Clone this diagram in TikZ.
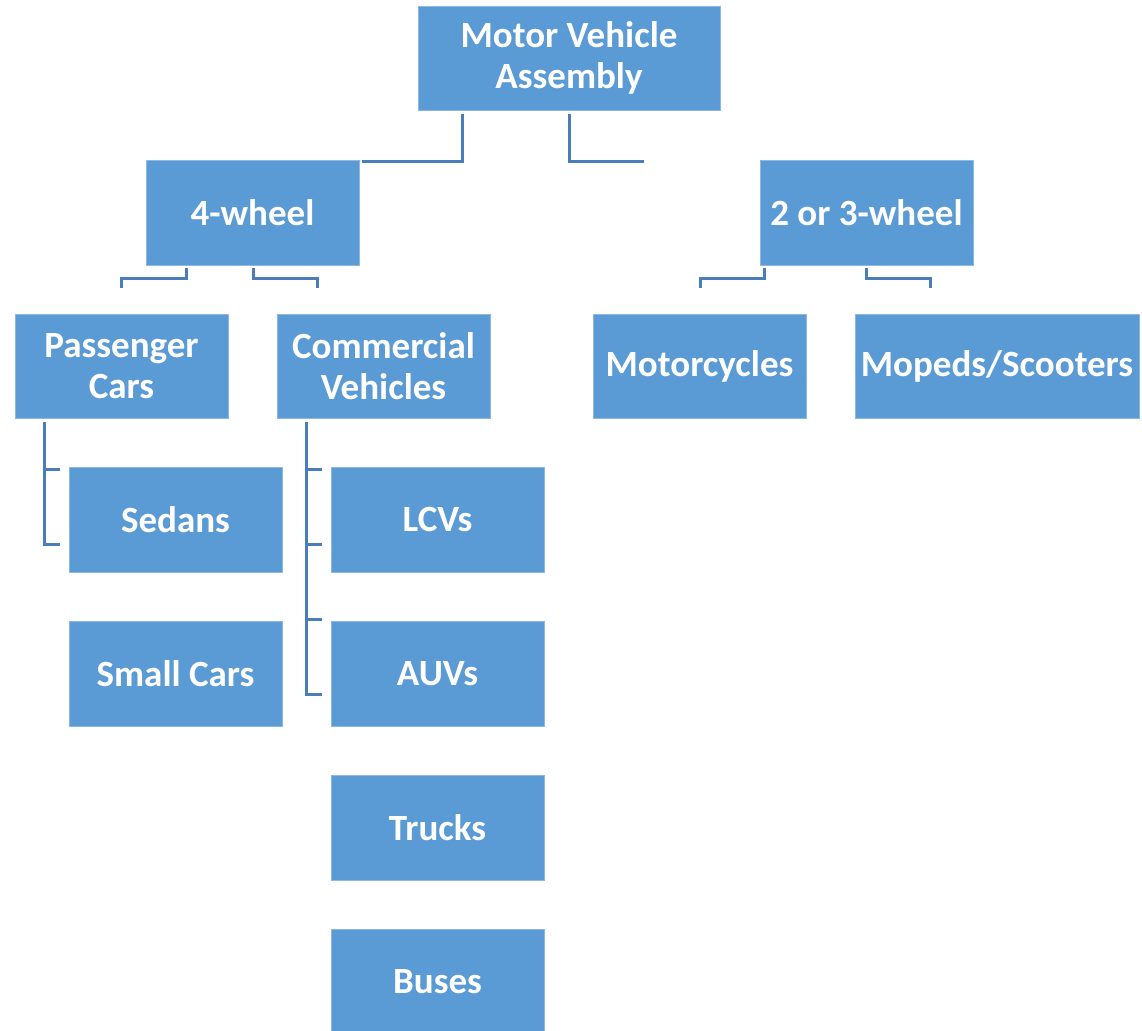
\documentclass[tikz,border=0pt]{standalone}
\usepackage{fontspec}
\setmainfont{Carlito}
\usetikzlibrary{calc}
\definecolor{boxblue}{HTML}{5B9BD5}
\definecolor{linkblue}{HTML}{4A7EBB}
\begin{document}
\begin{tikzpicture}[x=1pt,y=-1pt,
  box/.style={fill=boxblue, draw=boxblue!70!white, line width=0.8pt, text=white,
    font=\fontsize{37}{41}\selectfont\bfseries, align=center, inner sep=0pt},
  link/.style={draw=linkblue, line width=3pt, line cap=butt, line join=miter}]
\useasboundingbox (0,0) rectangle (1142,1030);
% boxes given by corner coordinates
\newcommand{\mkbox}[6]{%
  \node[box, minimum width=#4-#2, minimum height=#5-#3] (#1) at ({(#2+#4)/2},{(#3+#5)/2}) {#6};}
\mkbox{mva}{418}{6}{720}{110}{Motor Vehicle\\Assembly}
\mkbox{four}{146}{160}{359}{265}{4-wheel}
\mkbox{two}{760}{160}{973}{265}{2 or 3-wheel}
\mkbox{pass}{15}{314}{228}{418}{Passenger\\Cars}
\mkbox{comm}{277}{314}{490}{418}{Commercial\\Vehicles}
\mkbox{moto}{593}{314}{806}{418}{Motorcycles}
\mkbox{moped}{855}{314}{1139}{418}{Mopeds/Scooters}
\mkbox{sedan}{69}{467}{282}{572}{Sedans}
\mkbox{small}{69}{621}{282}{726}{Small Cars}
\mkbox{lcv}{331}{467}{544}{572}{LCVs}
\mkbox{auv}{331}{621}{544}{726}{AUVs}
\mkbox{truck}{331}{775}{544}{880}{Trucks}
\mkbox{bus}{331}{929}{544}{1034}{Buses}
% connector end points
\coordinate (mvaL) at (462,114);
\coordinate (mvaLe) at (362,161);
\coordinate (mvaR) at (569,114);
\coordinate (mvaRe) at (644,161);
\coordinate (fourL) at (186,268);
\coordinate (fourLe) at (121,288);
\coordinate (fourR) at (253,268);
\coordinate (fourRe) at (317,288);
\coordinate (twoL) at (764,268);
\coordinate (twoLe) at (700,288);
\coordinate (twoR) at (866,268);
\coordinate (twoRe) at (930,288);
\coordinate (passT) at (44,422);
\coordinate (commT) at (306,422);
% connectors
\draw[link] (mvaL) |- (mvaLe);
\draw[link] (mvaR) |- (mvaRe);
\draw[link] (fourL) -- (fourL|-0,278) -| (fourLe);
\draw[link] (fourR) -- (fourR|-0,278) -| (fourRe);
\draw[link] (twoL) -- (twoL|-0,278) -| (twoLe);
\draw[link] (twoR) -- (twoR|-0,278) -| (twoRe);
\draw[link] (passT) |- (60,544);
\draw[link] (passT|-0,469) -- (60,469);
\draw[link] (commT) |- (322,694);
\draw[link] (commT|-0,469) -- (322,469);
\draw[link] (commT|-0,544) -- (322,544);
\draw[link] (commT|-0,619) -- (322,619);
\end{tikzpicture}
\end{document}
